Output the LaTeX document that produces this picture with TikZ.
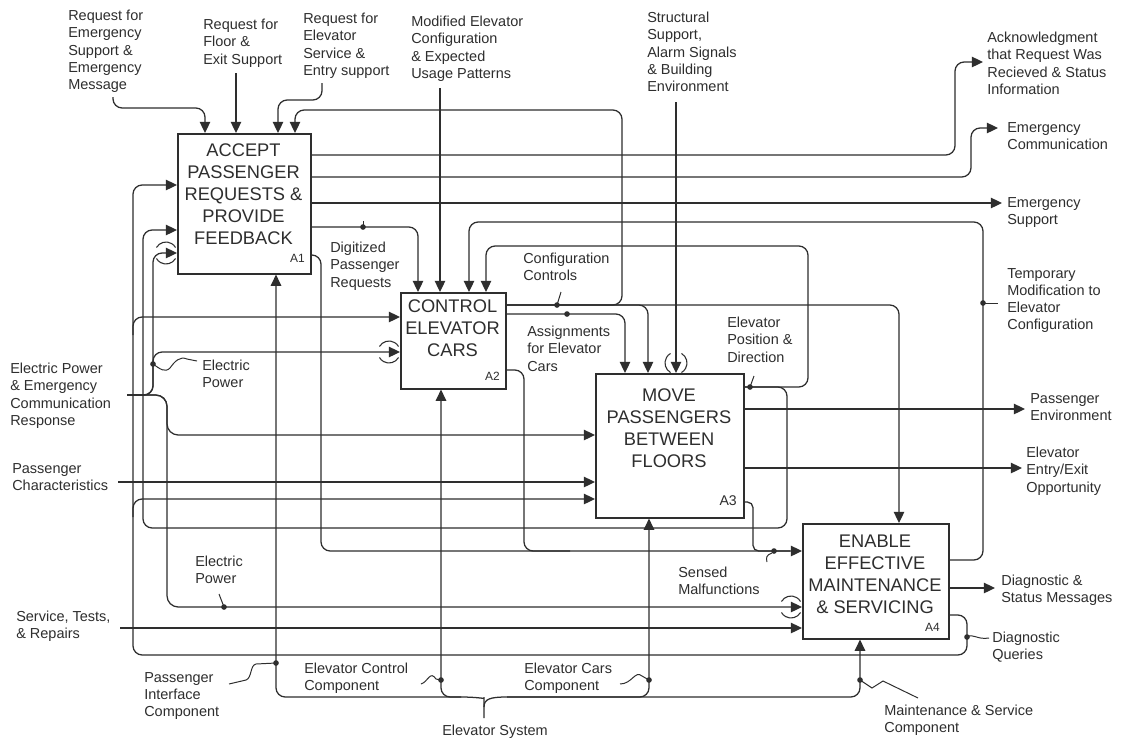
\documentclass[tikz,border=0pt]{standalone}
\usepackage{fontspec}
\setmainfont{Liberation Sans}
\usetikzlibrary{arrows.meta}
\definecolor{ink}{gray}{0.18}
\begin{document}
\begin{tikzpicture}[x=0.025cm,y=-0.025cm,
  wire/.style={draw=ink, line width=0.9pt, rounded corners=6.5pt},
  arr/.style={wire, -{Triangle[length=8pt,width=7.5pt]}},
  thin/.style={draw=ink, line width=0.7pt},
  funcbox/.style={draw=ink, line width=1.1pt, anchor=north west, inner sep=0pt},
  boxtitle/.style={font=\fontsize{13}{15.6}\selectfont, align=center, anchor=north, inner sep=0pt, text=ink},
  boxid/.style={font=\fontsize{8.5}{10}\selectfont, anchor=east, inner sep=0pt, text=ink},
  lbl/.style={font=\fontsize{10.3}{12.3}\selectfont, align=left, anchor=north west, inner sep=0pt, text=ink},
  jdot/.style={circle, fill=ink, inner sep=0pt, minimum size=4pt},
  tunnel/.style={draw=ink, line width=0.75pt}
]
\fill[white] (0,0) rectangle (1124,738);
\useasboundingbox (0,0) rectangle (1124,738);

% ---------- activity boxes ----------
\node[funcbox, minimum width=3.325cm, minimum height=3.5cm] (A1) at (177,133) {};
\node[funcbox, minimum width=2.625cm, minimum height=2.4cm] (A2) at (400,292) {};
\node[funcbox, minimum width=3.7cm, minimum height=3.6cm] (A3) at (595,373) {};
\node[funcbox, minimum width=3.65cm, minimum height=2.875cm] (A4) at (802,523) {};

\node[boxtitle] (A1t) at (243.5,143.3) {ACCEPT\\PASSENGER\\REQUESTS \&\\PROVIDE\\FEEDBACK};
\node[boxtitle] (A2t) at (452.5,299.3) {CONTROL\\ELEVATOR\\CARS};
\node[boxtitle] (A3t) at (669,388.3) {MOVE\\PASSENGERS\\BETWEEN\\FLOORS};
\node[boxtitle] (A4t) at (875,534.8) {ENABLE\\EFFECTIVE\\MAINTENANCE\\\& SERVICING};

\node[boxid] (A1id) at (305,258) {A1};
\node[boxid] (A2id) at (500,376) {A2};
\node[boxid, font=\fontsize{10}{12}\selectfont] (A3id) at (737,501) {A3};
\node[boxid] (A4id) at (940,627) {A4};

% ---------- labels ----------
\node[lbl] (l1) at (68,9.8) {Request for\\Emergency\\Support \&\\Emergency\\Message};
\node[lbl] (l2) at (203,18.8) {Request for\\Floor \&\\Exit Support};
\node[lbl] (l3) at (303,12.8) {Request for\\Elevator\\Service \&\\Entry support};
\node[lbl] (l4) at (411,15.8) {Modified Elevator\\Configuration\\\& Expected\\Usage Patterns};
\node[lbl] (l5) at (647,11.8) {Structural\\Support,\\Alarm Signals\\\& Building\\Environment};
\node[lbl] (l6) at (987,31.8) {Acknowledgment\\that Request Was\\Recieved \& Status\\Information};
\node[lbl] (l7) at (1007,121.8) {Emergency\\Communication};
\node[lbl] (l8) at (1007,196.8) {Emergency\\Support};
\node[lbl] (l9) at (1007,267.8) {Temporary\\Modification to\\Elevator\\Configuration};
\node[lbl] (l10) at (1030,392.8) {Passenger\\Environment};
\node[lbl] (l11) at (1026,446.8) {Elevator\\Entry/Exit\\Opportunity};
\node[lbl] (l12) at (1001,574.8) {Diagnostic \&\\Status Messages};
\node[lbl] (l13) at (992,631.8) {Diagnostic\\Queries};
\node[lbl] (l14) at (884,704.8) {Maintenance \& Service\\Component};
\node[lbl, anchor=north] (l15) at (495,724.8) {Elevator System};
\node[lbl] (l16) at (524,662.8) {Elevator Cars\\Component};
\node[lbl] (l17) at (304,662.8) {Elevator Control\\Component};
\node[lbl] (l18) at (144,671.8) {Passenger\\Interface\\Component};
\node[lbl] (l19) at (16,610.8) {Service, Tests,\\\& Repairs};
\node[lbl] (l20) at (195,555.8) {Electric\\Power};
\node[lbl] (l21) at (12,462.8) {Passenger\\Characteristics};
\node[lbl] (l22) at (10,362.8) {Electric Power\\\& Emergency\\Communication\\Response};
\node[lbl] (l23) at (202,359.8) {Electric\\Power};
\node[lbl] (l24) at (330,241.8) {Digitized\\Passenger\\Requests};
\node[lbl] (l25) at (523,252.8) {Configuration\\Controls};
\node[lbl] (l26) at (527,325.8) {Assignments\\for Elevator\\Cars};
\node[lbl] (l27) at (727,316.8) {Elevator\\Position \&\\Direction};
\node[lbl] (l28) at (678,566.8) {Sensed\\Malfunctions};

% ---------- controls entering A1 ----------
\draw[arr] (113,97) -- (113,108) -- (205,108) -- (205,0 |- A1.north);
\draw[arr] (236,73) -- (236,0 |- A1.north);
\draw[arr] (322,83) -- (322,100) -- (278,100) -- (278,0 |- A1.north);

% ---------- configuration controls from A2 ----------
\draw[arr] (A2.east |- 0,305) -- (622,305) -- (622,110) -- (295,110) -- (295,0 |- A1.north);
\draw[arr] (A2.east |- 0,305) -- (648,305) -- (648,0 |- A3.north);
\draw[arr] (A2.east |- 0,305) -- (899,305) -- (899,0 |- A4.north);
\node[jdot] (dcfg) at (557,305) {};
\draw[thin] (dcfg.center) -- (561,292);

% assignments for elevator cars
\draw[arr] (A2.east |- 0,314) -- (625,314) -- (625,0 |- A3.north);
\node[jdot] (dasg) at (567,314) {};

% digitized passenger requests
\draw[arr] (A1.east |- 0,227) -- (418,227) -- (418,0 |- A2.north);
\node[jdot] (ddig) at (363,227) {};
\draw[thin] (ddig.center) -- (363,221);

% modified configuration
\draw[arr] (440,88) -- (440,0 |- A2.north);

% temporary modification, A4 back to A2
\draw[arr] (A4.east |- 0,560) -- (983,560) -- (983,222) -- (469,222) -- (469,0 |- A2.north);
\node[jdot] (dtmp) at (983,303) {};
\draw[thin] (dtmp.center) -- (998,303);

% elevator position and direction, A3 back to A2 and A1
\draw[arr] (A3.east |- 0,387) -- (808,387) -- (808,246) -- (486,246) -- (486,0 |- A2.north);
\draw[arr] (A3.east |- 0,387) -- (787,387) -- (787,528) -- (143,528) -- (143,230) -- (A1.west |- 0,230);
\node[jdot] (dpos) at (750,387) {};
\draw[thin] (dpos.center) -- (754,376);

% structural support (tunnelled)
\draw[arr] (676,102) -- (676,0 |- A3.north);
\draw[tunnel] (676,363) ++(120:11) arc[start angle=120,end angle=240,radius=11];
\draw[tunnel] (676,363) ++(-60:11) arc[start angle=-60,end angle=60,radius=11];

% ---------- outputs of A1 ----------
\draw[arr] (A1.east |- 0,155) -- (955,155) -- (955,62) -- (983,62);
\draw[arr] (A1.east |- 0,177) -- (971,177) -- (971,128) -- (998,128);
\draw[arr] (A1.east |- 0,203) -- (1002,203);

% ---------- sensed malfunctions into A4 ----------
\draw[arr] (A1.east |- 0,255) -- (321,255) -- (321,551) -- (A4.west |- 0,551);
\draw[wire] (A2.east |- 0,370) -- (524,370) -- (524,551) -- (570,551);
\draw[wire, rounded corners=4pt] (A3.east |- 0,502) -- (753,502) -- (753,551) -- (790,551);
\node[jdot] (dsen) at (774,551) {};
\draw[thin] (772,553) .. controls (766,555) and (766,558) .. (767,562);

% ---------- electric power & emergency communication ----------
\draw[arr, rounded corners=8pt] (127,395) -- (167,395) -- (167,435) -- (A3.west |- 0,435);
\draw[arr, rounded corners=8pt] (127,395) -- (167,395) -- (167,607) -- (A4.west |- 0,607);
\draw[arr] (127,395) -- (153,395) -- (153,253) -- (A1.west |- 0,253);
\draw[arr] (127,395) -- (153,395) -- (153,352) -- (A2.west |- 0,352);
\node[jdot] (dep1) at (153,364) {};
\draw[thin] (dep1.center) .. controls (160,369) and (165,373) .. (170,368)
  .. controls (175,361) and (180,356) .. (187,359) -- (197,361);
\node[jdot] (dep2) at (224,607) {};
\draw[thin] (dep2.center) -- (219,594);

% tunnelled arrow marks
\draw[tunnel] (166,253) ++(30:11) arc[start angle=30,end angle=150,radius=11];
\draw[tunnel] (166,253) ++(210:11) arc[start angle=210,end angle=330,radius=11];
\draw[tunnel] (389,352) ++(30:11) arc[start angle=30,end angle=150,radius=11];
\draw[tunnel] (389,352) ++(210:11) arc[start angle=210,end angle=330,radius=11];
\draw[tunnel] (791,607) ++(30:11) arc[start angle=30,end angle=150,radius=11];
\draw[tunnel] (791,607) ++(210:11) arc[start angle=210,end angle=330,radius=11];

% passenger characteristics, service
\draw[arr] (118,482) -- (A3.west |- 0,482);
\draw[arr] (120,628) -- (A4.west |- 0,628);

% ---------- diagnostic queries from A4 ----------
\draw[arr] (A4.east |- 0,615) -- (967,615) -- (967,655) -- (133,655) -- (133,185) -- (A1.west |- 0,185);
\draw[arr] (133,335) -- (133,317) -- (A2.west |- 0,317);
\draw[arr] (133,517) -- (133,499) -- (A3.west |- 0,499);
\node[jdot] (dqry) at (967,637) {};
\draw[thin] (dqry.center) .. controls (973,633) and (977,640) .. (989,638);

% ---------- outputs of A3 and A4 ----------
\draw[arr] (A3.east |- 0,409) -- (1025,409);
\draw[arr] (A3.east |- 0,468) -- (1022,468);
\draw[arr] (A4.east |- 0,588) -- (995,588);

% ---------- mechanisms: elevator system ----------
\draw[arr] (461,697) -- (276,697) -- (276,0 |- A1.south);
\draw[arr] (461,697) -- (441,697) -- (441,0 |- A2.south);
\draw[arr] (507,697) -- (649,697) -- (649,0 |- A3.south);
\draw[arr] (507,697) -- (860,697) -- (860,0 |- A4.south);
\draw[wire] (461,697) .. controls (478,697) and (484,699) .. (484,707) -- (484,718);
\draw[wire] (507,697) .. controls (490,697) and (484,699) .. (484,707);

\node[jdot] (dpi) at (276,663) {};
\draw[thin] (dpi.center) -- (256,664) .. controls (250,665) and (252,678) .. (246,680) -- (229,684);
\node[jdot] (dec) at (441,680) {};
\draw[thin] (dec.center) -- (436,679) .. controls (430,670) and (428,682) .. (421,684);
\node[jdot] (dcar) at (649,680) {};
\draw[thin] (dcar.center) -- (642,676) .. controls (635,670) and (632,684) .. (620,684);
\node[jdot] (dms) at (860,680) {};
\draw[thin] (dms.center) -- (872,688) -- (883,681) -- (918,698);
\end{tikzpicture}
\end{document}
